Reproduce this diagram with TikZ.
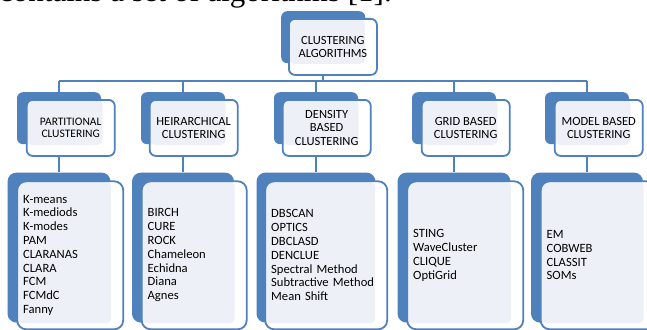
\documentclass[tikz,border=0pt]{standalone}
\usepackage{fontspec}
\setmainfont{Carlito}
\newfontfamily\leadfont{Liberation Serif}
\usetikzlibrary{positioning}

\definecolor{smblue}{RGB}{79,129,189}
\definecolor{smpale}{RGB}{237,241,247}

\tikzset{
  link/.style={draw=smblue, line width=1.8pt},
  pale/.style 2 args={path picture={
      \fill[smpale, rounded corners=5pt] (path picture bounding box.north west)
        rectangle ([shift={(-#1,#2)}]path picture bounding box.south east);}},
  % heading boxes: dark card behind, framed card in front
  headback/.style={fill=smblue, rounded corners=6pt, inner sep=0pt,
    minimum width=84pt, minimum height=52pt},
  head/.style={draw=smblue, line width=1.8pt, fill=white, rounded corners=6pt,
    minimum width=88pt, minimum height=56pt, inner sep=2pt, align=center,
    font=\fontsize{12.5}{13.5}\selectfont, pale={12pt}{11pt}},
  % list boxes
  leafback/.style={fill=smblue, rounded corners=9pt, inner sep=0pt,
    minimum width=#1, minimum height=150pt},
  leaf/.style={draw=smblue, line width=1.8pt, fill=white, rounded corners=9pt,
    minimum height=148pt, text width=#1, inner xsep=6pt, align=left,
    font=\fontsize{12.6}{13.8}\selectfont, pale={12pt}{6pt}},
}

\begin{document}
\begin{tikzpicture}[x=1pt, y=-1pt]
  \clip (0,0) rectangle (647,329);
  \fill[white] (0,0) rectangle (647,329);

  \node[anchor=base west, inner sep=0pt, font=\leadfont\fontsize{31}{31}\selectfont]
    (lead) at (-1,2) {contains a set of algorithms [1].};

  % root
  \node[headback, anchor=north west] (rootb) at (281,11) {};
  \node[head, below right=7pt and 7pt of rootb.north west] (root) {CLUSTERING\\ALGORITHMS};

  % second row
  \node[headback, anchor=north] (partb) at (59,92) {};
  \node[headback, anchor=north] (hierb) at (183,92) {};
  \node[headback, anchor=north] (densb) at (316,92) {};
  \node[headback, anchor=north] (gridb) at (454,92) {};
  \node[headback, anchor=north] (modlb) at (587,92) {};

  \node[head, font=\fontsize{11.5}{12}\selectfont,
    below right=7pt and 9pt of partb.north west] (part) {PARTITIONAL\\CLUSTERING};
  \node[head, below right=7pt and 8pt of hierb.north west] (hier) {HEIRARCHICAL\\CLUSTERING};
  \node[head, below right=7pt and 8pt of densb.north west] (dens) {DENSITY\\BASED\\CLUSTERING};
  \node[head, below right=7pt and 9pt of gridb.north west] (grid) {GRID BASED\\CLUSTERING};
  \node[head, below right=7pt and 9pt of modlb.north west] (modl) {MODEL BASED\\CLUSTERING};

  % third row
  \node[leafback=103pt, below=28pt of partb] (partlb) {};
  \node[leafback=102pt, below=28pt of hierb] (hierlb) {};
  \node[leafback=119pt, below=28pt of densb] (denslb) {};
  \node[leafback=113pt, below=28pt of gridb] (gridlb) {};
  \node[leafback=112pt, below=28pt of modlb] (modllb) {};

  \node[leaf=94pt, below right=8pt and 9pt of partlb.north west] (partl)
    {K-means\\K-mediods\\K-modes\\PAM\\CLARANAS\\CLARA\\FCM\\FCMdC\\Fanny};
  \node[leaf=93pt, below right=8pt and 9pt of hierlb.north west] (hierl)
    {BIRCH\\CURE\\ROCK\\Chameleon\\Echidna\\Diana\\Agnes};
  \node[leaf=110pt, below right=8pt and 8pt of denslb.north west] (densl)
    {DBSCAN\\OPTICS\\DBCLASD\\DENCLUE\\Spectral Method\\Subtractive Method\\Mean Shift};
  \node[leaf=104pt, below right=8pt and 9pt of gridlb.north west] (gridl)
    {STING\\WaveCluster\\CLIQUE\\OptiGrid};
  \node[leaf=103pt, below right=8pt and 9pt of modllb.north west] (modll)
    {EM\\COBWEB\\CLASSIT\\SOMs};

  % connectors
  \coordinate (bus) at (0,81);
  \draw[link] (rootb |- root.south) -- (rootb |- bus);
  \draw[link] (partb |- bus) -- (modlb |- bus);
  \foreach \n in {part,hier,dens,grid,modl} {
    \draw[link] (\n b |- bus) -- (\n b.north);
    \draw[link] (\n b |- \n.south) -- (\n lb.north);
  }
\end{tikzpicture}
\end{document}
